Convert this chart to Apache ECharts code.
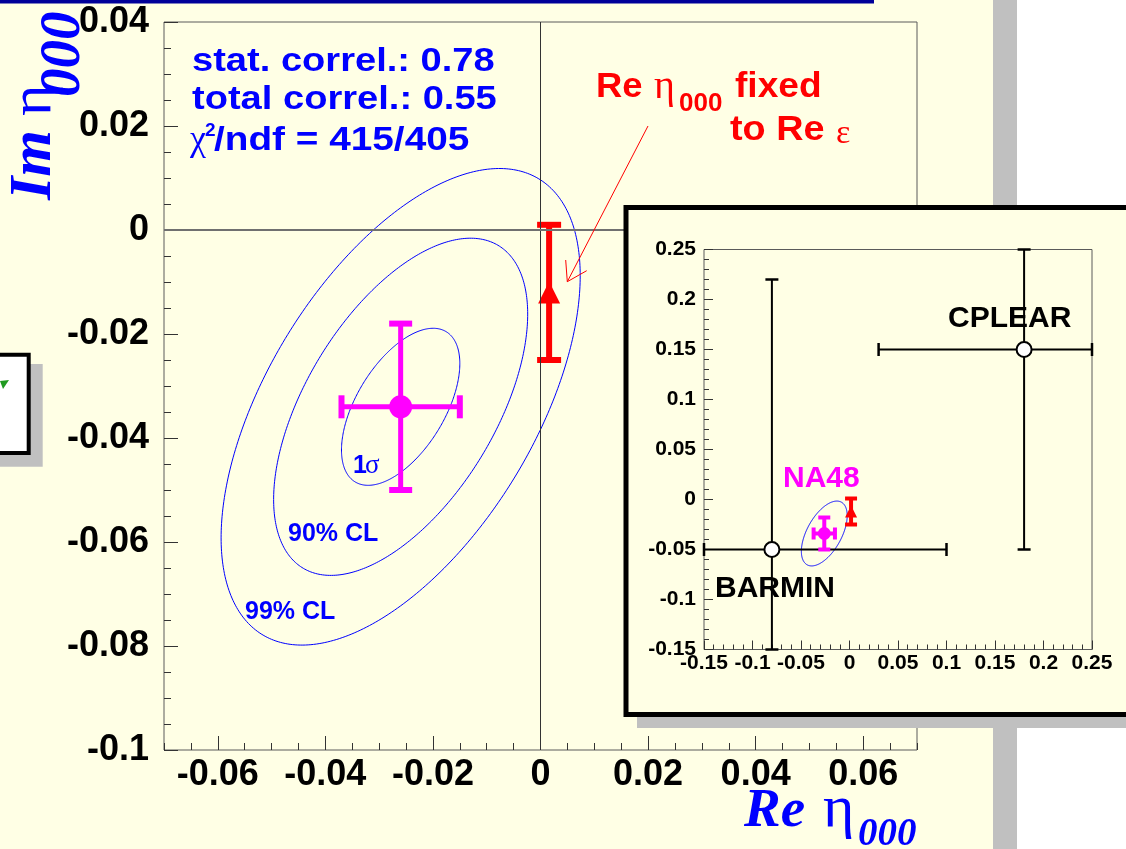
<!DOCTYPE html>
<html><head><meta charset="utf-8">
<script src="https://cdn.jsdelivr.net/npm/echarts@6/dist/echarts.min.js"></script>
<style>html,body{margin:0;padding:0;background:#fff}#c{width:1126px;height:849px}</style>
</head><body><div id="c"></div>
<script>
// ---------------- data ----------------
// main plot axes
const mainXRange = [-0.07, 0.07];
const mainXMajorTicks = [-0.06, -0.04, -0.02, 0, 0.02, 0.04, 0.06];
const mainXMinorStep = 0.005;
const mainYRange = [-0.1, 0.04];
const mainYStep = 0.02;
// inset axes
const insetRange = [-0.15, 0.25];
const insetStep = 0.05;
// NA48 fit result: centre, x-range, y-range of error bars
const na48Point = [-0.026, -0.034];
const na48XErr = [-0.037, -0.015];
const na48YErr = [-0.050, -0.018];
// fit with Re eta000 fixed to Re epsilon
const fixedPoint = [0.0016, -0.012];
const fixedYErr = [-0.025, 0.001];
// confidence contours (total errors and correlation)
const contourSigma = [0.011, 0.0151];
const contourCorrelation = 0.55;
const contourDeltaChi2 = [1.0, 4.61, 9.21];   // 1 sigma, 90% CL, 99% CL
const insetContourDeltaChi2 = [4.61];
// previous measurements in the inset
const barminPoint = [-0.08, -0.05];
const barminXErr = [-0.15, 0.10];
const barminYErr = [-0.15, 0.22];
const cplearPoint = [0.18, 0.15];
const cplearXErr = [0.03, 0.25];
const cplearYErr = [-0.05, 0.25];

// ---------------- helpers ----------------
const SANS = "'Liberation Sans', Arial, sans-serif";
const SERIF = "'Liberation Serif', 'Times New Roman', serif";
const BG = '#ffffe5';

function contourRows(levels) {
  return levels.map(k => [na48Point[0], na48Point[1], contourSigma[0], contourSigma[1], contourCorrelation, k]);
}
function ellipseItem(params, api) {
  const cx = api.value(0), cy = api.value(1), sx = api.value(2), sy = api.value(3), rho = api.value(4), k = api.value(5);
  const r = Math.sqrt(k), q = Math.sqrt(1 - rho * rho);
  const pts = [];
  for (let i = 0; i <= 360; i++) {
    const t = 2 * Math.PI * i / 360;
    pts.push(api.coord([cx + sx * r * Math.cos(t), cy + sy * r * (rho * Math.cos(t) + q * Math.sin(t))]));
  }
  return {type: 'polyline', shape: {points: pts}, style: {fill: 'none', stroke: '#0000ff', lineWidth: 1}};
}
function errorItem(st) {
  return function (params, api) {
    const x = api.value(0), y = api.value(1);
    const xlo = api.value(2), xhi = api.value(3), ylo = api.value(4), yhi = api.value(5);
    const ch = [];
    const ls = {stroke: st.color, lineWidth: st.width};
    const cs = {stroke: st.color, lineWidth: st.capWidth};
    const h = st.cap / 2;
    if (xlo !== xhi) {
      const a = api.coord([xlo, y]), b = api.coord([xhi, y]);
      ch.push({type: 'line', shape: {x1: a[0], y1: a[1], x2: b[0], y2: b[1]}, style: ls});
      ch.push({type: 'line', shape: {x1: a[0], y1: a[1] - h, x2: a[0], y2: a[1] + h}, style: cs});
      ch.push({type: 'line', shape: {x1: b[0], y1: b[1] - h, x2: b[0], y2: b[1] + h}, style: cs});
    }
    if (ylo !== yhi) {
      const a = api.coord([x, ylo]), b = api.coord([x, yhi]);
      ch.push({type: 'line', shape: {x1: a[0], y1: a[1], x2: b[0], y2: b[1]}, style: ls});
      ch.push({type: 'line', shape: {x1: a[0] - h, y1: a[1], x2: a[0] + h, y2: a[1]}, style: cs});
      ch.push({type: 'line', shape: {x1: b[0] - h, y1: b[1], x2: b[0] + h, y2: b[1]}, style: cs});
    }
    return {type: 'group', children: ch};
  };
}
function txt(text, x, y, o) {
  o = o || {};
  return {
    type: 'text', x: x, y: y, z: o.z || 10, silent: true,
    scaleX: o.sx || 1, rotation: o.rot || 0,
    style: {
      text: text, x: 0, y: 0, fill: o.color || '#000',
      fontSize: o.size || 30, fontWeight: o.weight || 'bold', fontStyle: o.style || 'normal',
      fontFamily: o.family || SANS,
      align: o.align || 'left', verticalAlign: 'middle',
      textAlign: o.align || 'left', textVerticalAlign: 'middle'
    }
  };
}

// ---------------- chart ----------------
const chart = echarts.init(document.getElementById('c'), null, {renderer: 'canvas'});

const tickColor = '#333';
const frameColor = '#5a5a5a';
const noLine = {show: false, onZero: false};

const option = {
  animation: false,
  backgroundColor: BG,
  grid: [
    {left: 164, top: 22, width: 753, height: 728, show: true, borderColor: frameColor, borderWidth: 1,
     backgroundColor: 'transparent', z: 0, containLabel: false, outerBoundsMode: 'none'},
    {left: 704, top: 249.5, width: 388, height: 400, show: true, borderColor: frameColor, borderWidth: 1,
     backgroundColor: 'transparent', z: 60, containLabel: false, outerBoundsMode: 'none'}
  ],
  xAxis: [
    { // main x: minor ticks
      type: 'value', gridIndex: 0, position: 'bottom', min: mainXRange[0], max: mainXRange[1], interval: mainXMinorStep,
      axisLine: noLine, splitLine: {show: false},
      axisTick: {show: true, inside: true, length: 7, lineStyle: {color: tickColor, width: 1}},
      axisLabel: {show: false}
    },
    { // main x: major ticks and labels
      type: 'value', gridIndex: 0, position: 'bottom', min: mainXRange[0], max: mainXRange[1],
      axisLine: noLine, splitLine: {show: false},
      axisTick: {show: true, inside: true, length: 14, customValues: mainXMajorTicks, lineStyle: {color: tickColor, width: 1}},
      axisLabel: {show: true, customValues: mainXMajorTicks, margin: 7, color: '#000', fontSize: 36, fontWeight: 'bold', fontFamily: SANS}
    },
    { // inset x
      type: 'value', gridIndex: 1, position: 'bottom', min: insetRange[0], max: insetRange[1], interval: insetStep, z: 60,
      axisLine: noLine, splitLine: {show: false},
      axisTick: {show: true, inside: true, length: 9, lineStyle: {color: tickColor, width: 1}},
      minorTick: {show: true, splitNumber: 5, length: 5, lineStyle: {color: tickColor, width: 1}},
      axisLabel: {show: true, margin: 3, color: '#000', fontSize: 21, fontWeight: 'bold', fontFamily: SANS, showMinLabel: true, showMaxLabel: true, hideOverlap: false}
    }
  ],
  yAxis: [
    { // main y
      type: 'value', gridIndex: 0, position: 'left', min: mainYRange[0], max: mainYRange[1], interval: mainYStep,
      axisLine: noLine, splitLine: {show: false},
      axisTick: {show: true, inside: true, length: 14, lineStyle: {color: tickColor, width: 1}},
      minorTick: {show: true, splitNumber: 4, length: 7, lineStyle: {color: tickColor, width: 1}},
      axisLabel: {show: true, margin: 15, color: '#000', fontSize: 36, fontWeight: 'bold', fontFamily: SANS, showMinLabel: true, showMaxLabel: true}
    },
    { // inset y
      type: 'value', gridIndex: 1, position: 'left', min: insetRange[0], max: insetRange[1], interval: insetStep, z: 60,
      axisLine: noLine, splitLine: {show: false},
      axisTick: {show: true, inside: true, length: 9, lineStyle: {color: tickColor, width: 1}},
      minorTick: {show: true, splitNumber: 5, length: 5, lineStyle: {color: tickColor, width: 1}},
      axisLabel: {show: true, margin: 8, color: '#000', fontSize: 21, fontWeight: 'bold', fontFamily: SANS, showMinLabel: true, showMaxLabel: true, hideOverlap: false}
    }
  ],
  series: [
    // ---- main plot ----
    {type: 'scatter', xAxisIndex: 0, yAxisIndex: 0, data: [[0, 0]], symbolSize: 0, silent: true, z: 1,
     markLine: {silent: true, symbol: 'none', label: {show: false}, animation: false,
       data: [{xAxis: 0, lineStyle: {color: '#333', width: 1, type: 'solid'}},
              {yAxis: 0, lineStyle: {color: '#707070', width: 2, type: 'solid'}}]}},
    {type: 'custom', xAxisIndex: 0, yAxisIndex: 0, z: 2, silent: true, encode: {x: 0, y: 1},
     data: contourRows(contourDeltaChi2), renderItem: ellipseItem},
    {type: 'custom', xAxisIndex: 0, yAxisIndex: 0, z: 3, silent: true, encode: {x: 0, y: 1},
     data: [[na48Point[0], na48Point[1], na48XErr[0], na48XErr[1], na48YErr[0], na48YErr[1]]],
     renderItem: errorItem({color: '#ff00ff', width: 5, capWidth: 6, cap: 23})},
    {type: 'custom', xAxisIndex: 0, yAxisIndex: 0, z: 3, silent: true, encode: {x: 0, y: 1},
     data: [[fixedPoint[0], fixedPoint[1], fixedPoint[0], fixedPoint[0], fixedYErr[0], fixedYErr[1]]],
     renderItem: errorItem({color: '#ff0000', width: 6, capWidth: 6, cap: 24})},
    {type: 'scatter', xAxisIndex: 0, yAxisIndex: 0, z: 4, silent: true, data: [na48Point],
     symbol: 'circle', symbolSize: 23, itemStyle: {color: '#ff00ff', opacity: 1}},
    {type: 'scatter', xAxisIndex: 0, yAxisIndex: 0, z: 4, silent: true, data: [fixedPoint],
     symbol: 'triangle', symbolSize: 22, itemStyle: {color: '#ff0000', opacity: 1}},
    // ---- inset ----
    {type: 'scatter', xAxisIndex: 2, yAxisIndex: 1, data: [[0, 0]], symbolSize: 0, silent: true, z: 61,
     markLine: {silent: true, symbol: 'none', label: {show: false}, animation: false,
       lineStyle: {color: '#000', width: 1, type: 'solid'},
       data: [{xAxis: 0}, {yAxis: 0}]}},
    {type: 'custom', xAxisIndex: 2, yAxisIndex: 1, z: 62, silent: true, encode: {x: 0, y: 1},
     data: contourRows(insetContourDeltaChi2), renderItem: ellipseItem},
    {type: 'custom', xAxisIndex: 2, yAxisIndex: 1, z: 63, silent: true, encode: {x: 0, y: 1},
     data: [[barminPoint[0], barminPoint[1], barminXErr[0], barminXErr[1], barminYErr[0], barminYErr[1]],
            [cplearPoint[0], cplearPoint[1], cplearXErr[0], cplearXErr[1], cplearYErr[0], cplearYErr[1]]],
     renderItem: errorItem({color: '#000', width: 2, capWidth: 2.5, cap: 13})},
    {type: 'custom', xAxisIndex: 2, yAxisIndex: 1, z: 63, silent: true, encode: {x: 0, y: 1},
     data: [[na48Point[0], na48Point[1], na48XErr[0], na48XErr[1], na48YErr[0], na48YErr[1]]],
     renderItem: errorItem({color: '#ff00ff', width: 4, capWidth: 4, cap: 12})},
    {type: 'custom', xAxisIndex: 2, yAxisIndex: 1, z: 63, silent: true, encode: {x: 0, y: 1},
     data: [[fixedPoint[0], fixedPoint[1], fixedPoint[0], fixedPoint[0], fixedYErr[0], fixedYErr[1]]],
     renderItem: errorItem({color: '#ff0000', width: 4, capWidth: 4, cap: 12})},
    {type: 'scatter', xAxisIndex: 2, yAxisIndex: 1, z: 65, silent: true, data: [barminPoint, cplearPoint],
     symbol: 'circle', symbolSize: 15, itemStyle: {color: '#fff', borderColor: '#000', borderWidth: 2, opacity: 1}},
    {type: 'scatter', xAxisIndex: 2, yAxisIndex: 1, z: 65, silent: true, data: [na48Point],
     symbol: 'circle', symbolSize: 13, itemStyle: {color: '#ff00ff', opacity: 1}},
    {type: 'scatter', xAxisIndex: 2, yAxisIndex: 1, z: 65, silent: true, data: [fixedPoint],
     symbol: 'triangle', symbolSize: 12, itemStyle: {color: '#ff0000', opacity: 1}}
  ],
  graphic: {elements: [
    // slide decorations
    {type: 'rect', z: 1, silent: true, shape: {x: 1017, y: 0, width: 109, height: 849}, style: {fill: '#ffffff'}},
    {type: 'rect', z: 1, silent: true, shape: {x: 993, y: 0, width: 24, height: 849}, style: {fill: '#c0c0c0'}},
    {type: 'rect', z: 1, silent: true, shape: {x: 0, y: 0, width: 874, height: 3.5}, style: {fill: '#000099'}},
    {type: 'rect', z: 1, silent: true, shape: {x: -10, y: 364, width: 52.7, height: 102.7}, style: {fill: '#c0c0c0'}},
    {type: 'rect', z: 1, silent: true, shape: {x: -10, y: 354.7, width: 38.7, height: 98.3}, style: {fill: '#ffffff', stroke: '#000', lineWidth: 4}},
    {type: 'polygon', z: 2, silent: true, shape: {points: [[0, 381], [9, 380], [3, 389]]}, style: {fill: '#1f9a1f'}},
    // inset box
    {type: 'rect', z: 50, silent: true, shape: {x: 637, y: 219, width: 600, height: 509}, style: {fill: '#c0c0c0'}},
    {type: 'rect', z: 51, silent: true, shape: {x: 626, y: 207.5, width: 600, height: 507}, style: {fill: BG, stroke: '#000', lineWidth: 5}},
    // fit info text
    txt('stat. correl.: 0.78', 192, 62, {color: '#0000ff', size: 34, sx: 1.12}),
    txt('total correl.: 0.55', 192, 99.5, {color: '#0000ff', size: 34, sx: 1.12}),
    txt('\u03c7', 190, 140.5, {color: '#0000ff', size: 36, weight: 'normal', family: SERIF}),
    txt('2', 205, 131, {color: '#0000ff', size: 19}),
    txt('/ndf = 415/405', 214, 140.5, {color: '#0000ff', size: 34, sx: 1.14}),
    // red annotation
    txt('Re', 596, 87.5, {color: '#ff0000', size: 35, sx: 1.04}),
    txt('\u03b7', 654, 87, {color: '#ff0000', size: 40, weight: 'normal', family: SERIF}),
    txt('000', 679, 104, {color: '#ff0000', size: 26}),
    txt('fixed', 735, 87.5, {color: '#ff0000', size: 35, sx: 1.06}),
    txt('to Re', 730, 130.2, {color: '#ff0000', size: 35, sx: 1.08}),
    txt('\u03b5', 836, 134, {color: '#ff0000', size: 34, weight: 'normal', family: SERIF}),
    {type: 'line', z: 10, silent: true, shape: {x1: 648, y1: 126, x2: 567.3, y2: 281.7}, style: {stroke: '#ff0000', lineWidth: 1}},
    {type: 'polyline', z: 10, silent: true, shape: {points: [[565.7, 260], [567.3, 281.7], [586.7, 270.7]]}, style: {stroke: '#ff0000', lineWidth: 1, fill: 'none'}},
    // contour labels
    txt('1', 353, 466, {color: '#0000ff', size: 25}),
    txt('\u03c3', 365, 466, {color: '#0000ff', size: 27, weight: 'normal', family: SERIF}),
    txt('90% CL', 288, 533.7, {color: '#0000ff', size: 25}),
    txt('99% CL', 245, 611.7, {color: '#0000ff', size: 25}),
    // inset labels
    txt('CPLEAR', 948, 319, {size: 30, z: 80}),
    txt('BARMIN', 715, 589, {size: 30, z: 80}),
    txt('NA48', 783, 479, {size: 30, color: '#ff00ff', z: 80}),
    // x axis title
    txt('Re', 744, 811.5, {color: '#0000ff', size: 55, style: 'italic', family: SERIF}),
    txt('\u03b7', 823, 810, {color: '#0000ff', size: 60, weight: 'normal', family: SERIF}),
    txt('000', 858, 835, {color: '#0000ff', size: 39, style: 'italic', family: SERIF}),
    // y axis title (rotated)
    txt('Im', 34.75, 200, {color: '#0000ff', size: 60, style: 'italic', family: SERIF, rot: Math.PI / 2}),
    txt('\u03b7', 34, 116, {color: '#0000ff', size: 60, weight: 'normal', family: SERIF, rot: Math.PI / 2}),
    txt('000', 64, 97, {color: '#0000ff', size: 57, style: 'italic', family: SERIF, rot: Math.PI / 2})
  ]}
};
chart.setOption(option);
</script>
</body></html>
